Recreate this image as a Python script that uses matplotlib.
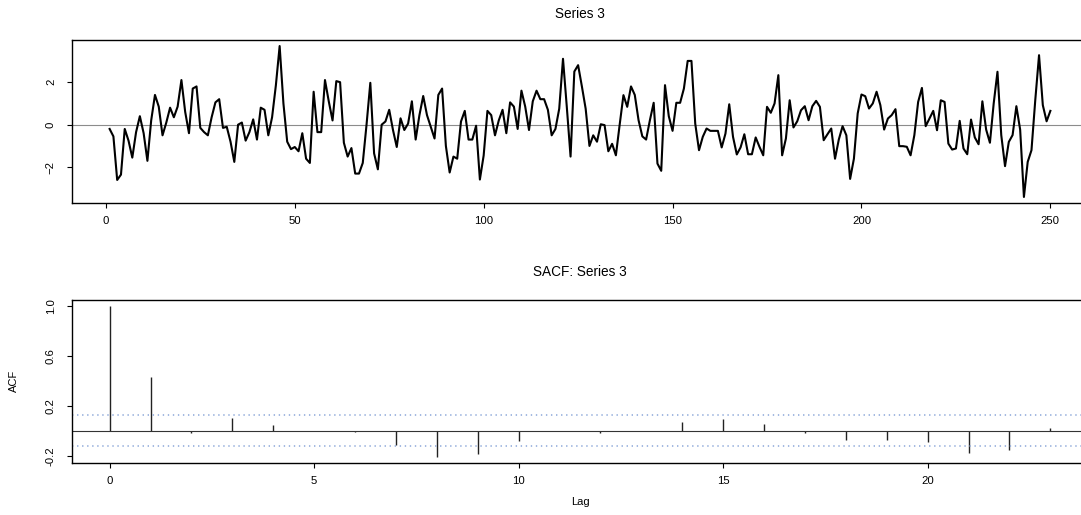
import numpy as np
import matplotlib
matplotlib.use("Agg")
import matplotlib.pyplot as plt

plt.rcParams["font.family"] = ["Liberation Sans", "DejaVu Sans"]

# %% Data
series_3 = [
    -0.2, -0.55, -2.6, -2.35, -0.2, -0.75, -1.55, -0.35, 0.4, -0.4,
    -1.7, 0.2, 1.4, 0.85, -0.5, 0.1, 0.8, 0.35, 0.85, 2.1,
    0.6, -0.4, 1.7, 1.8, -0.15, -0.35, -0.5, 0.35, 1.05, 1.2,
    -0.15, -0.1, -0.8, -1.75, 0.0, 0.1, -0.75, -0.35, 0.25, -0.7,
    0.8, 0.7, -0.5, 0.35, 1.85, 3.7, 1.0, -0.8, -1.15, -1.05,
    -1.25, -0.4, -1.6, -1.8, 1.55, -0.35, -0.35, 2.1, 1.1, 0.2,
    2.05, 2.0, -0.85, -1.5, -1.1, -2.3, -2.3, -1.8, 0.0, 1.97,
    -1.35, -2.1, 0.0, 0.15, 0.7, -0.25, -1.05, 0.3, -0.25, 0.05,
    1.1, -0.7, 0.45, 1.35, 0.45, -0.1, -0.65, 1.4, 1.7, -1.0,
    -2.25, -1.5, -1.6, 0.15, 0.65, -0.7, -0.7, -0.05, -2.58, -1.45,
    0.65, 0.45, -0.5, 0.2, 0.7, -0.4, 1.05, 0.85, -0.2, 1.6,
    0.85, -0.25, 1.1, 1.6, 1.2, 1.2, 0.7, -0.5, -0.2, 0.75,
    3.1, 0.85, -1.5, 2.5, 2.8, 1.8, 0.75, -1.0, -0.5, -0.8,
    0.02, -0.02, -1.25, -0.9, -1.44, 0.0, 1.39, 0.84, 1.8, 1.4,
    0.21, -0.55, -0.7, 0.21, 1.03, -1.83, -2.17, 1.86, 0.4, -0.29,
    1.03, 1.03, 1.7, 3.0, 3.0, 0.05, -1.2, -0.57, -0.18, -0.29,
    -0.29, -0.29, -1.07, -0.42, 0.96, -0.57, -1.4, -1.07, -0.45, -1.39,
    -1.39, -0.6, -1.04, -1.44, 0.84, 0.56, 1.0, 2.33, -1.44, -0.65,
    1.15, -0.13, 0.16, 0.68, 0.87, 0.21, 0.87, 1.12, 0.84, -0.73,
    -0.45, -0.18, -1.6, -0.7, -0.07, -0.5, -2.55, -1.6, 0.53, 1.42,
    1.34, 0.76, 1.0, 1.55, 0.92, -0.23, 0.29, 0.45, 0.73, -1.01,
    -1.01, -1.04, -1.44, -0.49, 1.07, 1.73, -0.07, 0.29, 0.65, -0.26,
    1.15, 1.07, -0.89, -1.17, -1.12, 0.18, -1.12, -1.39, 0.24, -0.6,
    -0.92, 1.1, -0.23, -0.85, 1.0, 2.49, -0.49, -1.95, -0.81, -0.49,
    0.87, -0.23, -3.4, -1.75, -1.2, 1.15, 3.27, 0.92, 0.16, 0.65,
]

acf_lags = list(range(24))
acf_vals = [1.0, 0.43, -0.015, 0.106, 0.045, -0.003, -0.01, -0.114,
            -0.21, -0.185, -0.085, -0.005, -0.019, -0.003, 0.074, 0.098,
            0.058, -0.019, -0.077, -0.077, -0.093, -0.175, -0.151, 0.024]

series_xticks = [0, 50, 100, 150, 200, 250]
series_yticks = [-2, 0, 2]
acf_xticks = [0, 5, 10, 15, 20]
acf_yticks = [-0.2, 0.2, 0.6, 1.0]
acf_ytick_labels = ["-0.2", "0.2", "0.6", "1.0"]


# %% Helpers
def r_lim(lo, hi):
    """R style axis range: data range plus 4% on each side."""
    pad = 0.04 * (hi - lo)
    return lo - pad, hi + pad


def style_axis(ax):
    for sp in ax.spines.values():
        sp.set_linewidth(1.0)
        sp.set_color("black")
    # the box runs past the right edge of the picture
    ax.spines["right"].set_visible(False)
    ax.tick_params(direction="out", length=3.6, width=0.8, labelsize=8.2,
                   colors="black")
    ax.tick_params(axis="x", pad=6)
    ax.tick_params(axis="y", pad=8)
    plt.setp(ax.get_yticklabels(), rotation=90, va="center")


W, H = 1081, 515
fig = plt.figure(figsize=(W / 100, H / 100), dpi=100)
fig.patch.set_facecolor("white")

# %% Series panel
ax1 = fig.add_axes([72 / W, 1 - 203 / H, 1016 / W, 163 / H])
t = np.arange(1, len(series_3) + 1)
ax1.axhline(0, color="#8c8c8c", lw=0.8, zorder=1)
ax1.plot(t, series_3, color="black", lw=1.5, zorder=2)
ax1.set_xlim(*r_lim(t[0], t[-1]))
ax1.set_ylim(*r_lim(min(series_3), max(series_3)))
ax1.set_xticks(series_xticks)
ax1.set_yticks(series_yticks)
style_axis(ax1)
fig.text(580 / W, 1 - 14 / H, "Series 3", ha="center", va="center",
         fontsize=9.8)

# %% SACF panel
conf = 1.96 / np.sqrt(len(series_3))
ax2 = fig.add_axes([72 / W, 1 - 463 / H, 1016 / W, 163 / H])
ax2.vlines(acf_lags, 0, acf_vals, color="#222222", lw=1.0)
ax2.axhline(0, color="#333333", lw=0.8)
for c in (conf, -conf):
    ax2.axhline(c, color="#8aa6d8", lw=1.1, linestyle=(0, (0.9, 2.4)))
ax2.set_xlim(*r_lim(acf_lags[0], acf_lags[-1]))
ax2.set_ylim(*r_lim(min(min(acf_vals), -conf), max(max(acf_vals), conf)))
ax2.set_xticks(acf_xticks)
ax2.set_yticks(acf_yticks)
ax2.set_yticklabels(acf_ytick_labels)
style_axis(ax2)
fig.text(580 / W, 1 - 272 / H, "SACF: Series 3", ha="center", va="center",
         fontsize=9.8)
fig.text(580 / W, 1 - 502 / H, "Lag", ha="center", va="center", fontsize=8)
fig.text(14 / W, 1 - 381 / H, "ACF", ha="center", va="center", fontsize=8,
         rotation=90)

fig.savefig("out.png", dpi=100)
